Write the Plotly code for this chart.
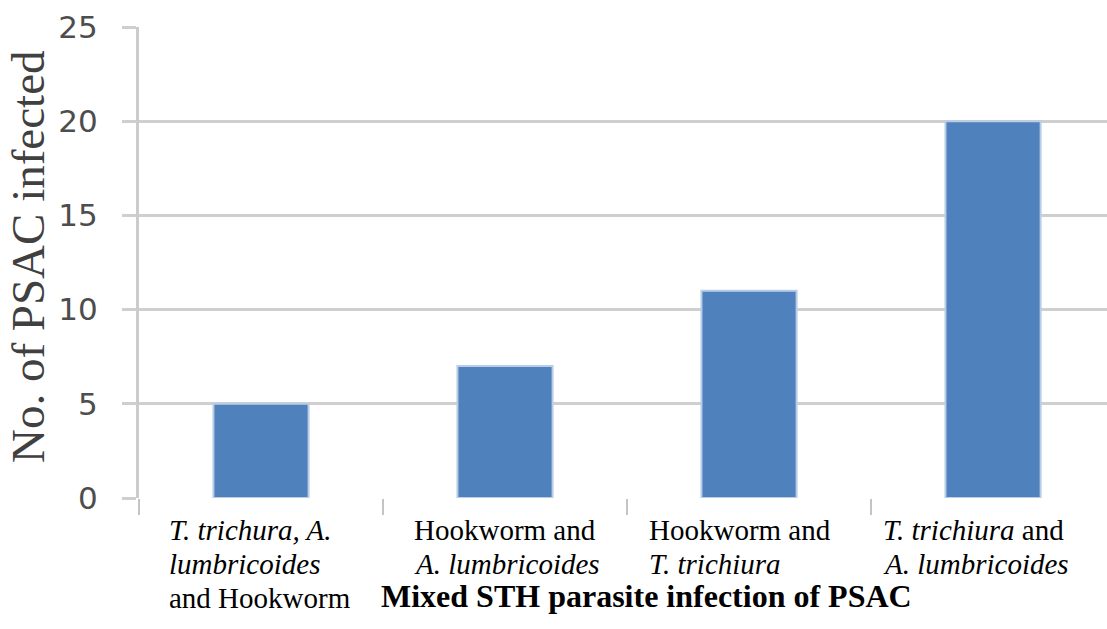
import plotly.graph_objects as go

categories = ["T. trichura, A. lumbricoides and Hookworm",
              "Hookworm and A. lumbricoides",
              "Hookworm and T. trichiura",
              "T. trichiura and A. lumbricoides"]
values = [5, 7, 11, 20]
label_lines = [
    ["<i>T. trichura, A.</i>", "<i>lumbricoides</i>", "and Hookworm"],
    ["Hookworm and", "<i>A. lumbricoides</i>"],
    ["Hookworm and", "<i>T. trichiura</i>"],
    ["<i>T. trichiura</i> and", "<i>A. lumbricoides</i>"],
]
y_ticks = [0, 5, 10, 15, 20, 25]
y_title = "No. of PSAC infected"
x_title = "Mixed STH parasite infection of PSAC"

label_xshift = [-94, -93, -102, -112]
line_yshift = [-32, -66, -100]

fig = go.Figure(go.Bar(
    x=list(range(len(categories))), y=values, width=0.39,
    marker=dict(color="#4f81bd", line=dict(color="#b9cde6", width=2)),
))

annotations = []
for i, lines in enumerate(label_lines):
    for j, ln in enumerate(lines):
        annotations.append(dict(
            x=i, xref="x", y=0, yref="paper", text=ln, showarrow=False,
            xanchor="left", yanchor="middle", xshift=label_xshift[i], yshift=line_yshift[j],
            font=dict(family="Liberation Serif", size=29, color="#000000"), align="left"))

annotations.append(dict(
    x=(646 - 139) / 968, xref="paper", y=0, yref="paper", text="<b>" + x_title + "</b>",
    showarrow=False, xanchor="center", yanchor="middle", yshift=-98,
    font=dict(family="Liberation Serif", size=32, color="#000000")))

annotations.append(dict(
    x=(28 - 139) / 968, xref="paper", y=(498 - 257) / 471, yref="paper", text=y_title,
    showarrow=False, textangle=-90, xanchor="center", yanchor="middle",
    font=dict(family="Liberation Serif", size=47, color="#404040")))

fig.update_layout(
    width=1107, height=629,
    margin=dict(l=139, r=0, t=27, b=131),
    paper_bgcolor="white", plot_bgcolor="white",
    showlegend=False,
    annotations=annotations,
    xaxis=dict(
        range=[-0.5, 3.467], showticklabels=False,
        tickmode="array", tickvals=[-0.5, 0.5, 1.5, 2.5], ticks="outside", ticklen=16,
        tickwidth=2, tickcolor="#c4c4c4", showgrid=False, zeroline=False,
        showline=False),
    yaxis=dict(
        range=[0, 25], tickvals=y_ticks, ticks="outside", ticklen=14, tickwidth=3,
        tickcolor="#cfcfcf", showgrid=True, gridcolor="#cfcfcf", gridwidth=3,
        zeroline=False, showline=True, linecolor="#cccccc", linewidth=3,
        tickfont=dict(family="DejaVu Sans", size=31, color="#4d4d4d"),
        ticklabelstandoff=18),
)

fig.write_html("out.html")
